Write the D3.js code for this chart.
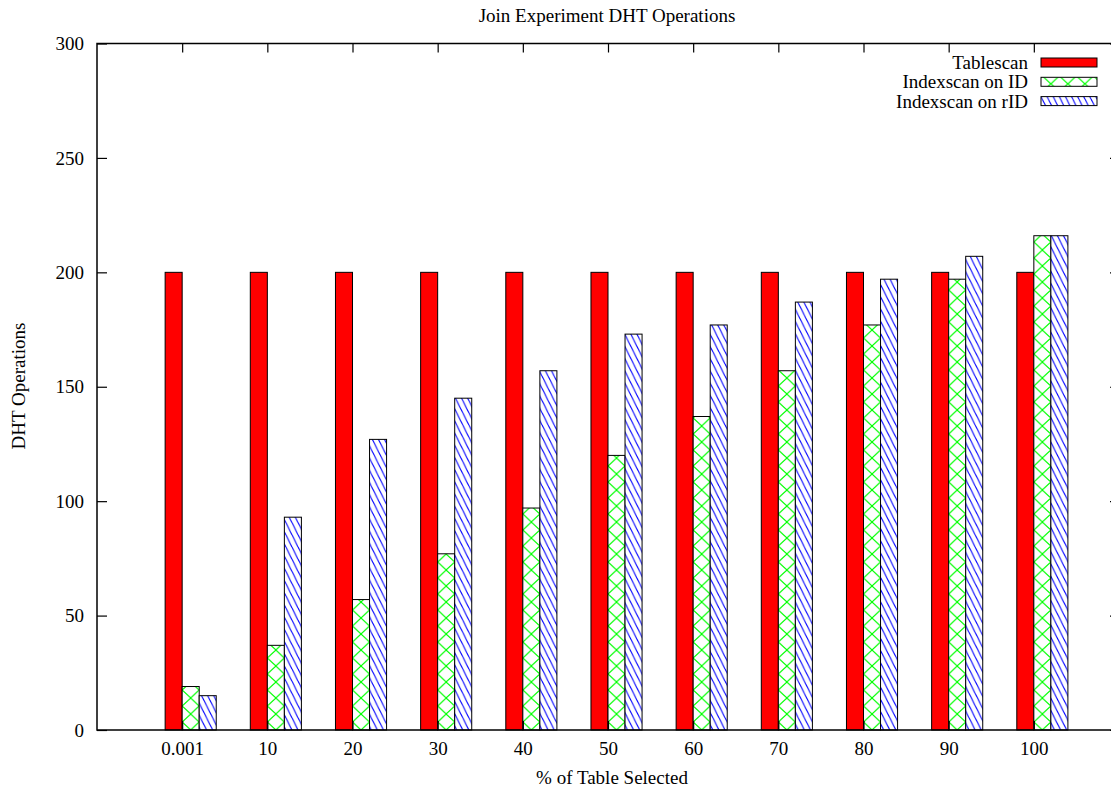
<!DOCTYPE html>
<html>
<head>
<meta charset="utf-8">
<script src="https://cdn.jsdelivr.net/npm/d3@7"></script>
<style>
  body { margin: 0; background: #fff; }
  svg text { font-family: "Liberation Serif", "DejaVu Serif", serif; font-size: 19px; fill: #000; }
  .axis path { display: none; }
  .axis line { stroke: #000; stroke-width: 1.2; }
</style>
</head>
<body>
<svg id="chart" width="1111" height="790"></svg>
<script>
// values
var categories = ['0.001', '10', '20', '30', '40', '50', '60', '70', '80', '90', '100'];
var tablescan = [200, 200, 200, 200, 200, 200, 200, 200, 200, 200, 200];
var indexscanId = [19, 37, 57, 77, 97, 120, 137, 157, 177, 197, 216];
var indexscanRid = [15, 93, 127, 145, 157, 173, 177, 187, 197, 207, 216];
var yTicks = [0, 50, 100, 150, 200, 250, 300];
var seriesNames = ['Tablescan', 'Indexscan on ID', 'Indexscan on rID'];

var svg = d3.select('#chart'),
    cs = {
        left: 97, right: 1119, top: 43.5, bottom: 730,
        barFrac: 0.2,
        pallette: { red: '#ff0000', green: '#00ff00', blue: '#0000ff' }
    };

cs.x = d3.scaleLinear().domain([-1, 11]).range([cs.left, cs.right]);
cs.y = d3.scaleLinear().domain([0, 300]).range([cs.bottom, cs.top]);
cs.barW = cs.x(cs.barFrac) - cs.x(0);

// fill patterns
var defs = svg.append('defs');
var pw = cs.barW, ph = 16;
var cross = defs.append('pattern').attr('id', 'cross')
    .attr('patternUnits', 'userSpaceOnUse')
    .attr('x', cs.x(0)).attr('y', cs.bottom)
    .attr('width', pw).attr('height', ph);
cross.append('rect').attr('width', pw).attr('height', ph).attr('fill', '#fff');
cross.append('path')
    .attr('d', 'M0,' + ph / 2 + 'L' + pw / 2 + ',0L' + pw + ',' + ph / 2 + 'L' + pw / 2 + ',' + ph + 'Z')
    .attr('fill', 'none').attr('stroke', cs.pallette.green).attr('stroke-width', 1.1);

var hw = 6.1, hh = 12.2;
var hatch = defs.append('pattern').attr('id', 'hatch')
    .attr('patternUnits', 'userSpaceOnUse')
    .attr('x', cs.x(0)).attr('y', cs.bottom)
    .attr('width', hw).attr('height', hh);
hatch.append('rect').attr('width', hw).attr('height', hh).attr('fill', '#fff');
hatch.append('path')
    .attr('d', 'M' + (-hw) + ',0L0,' + hh + 'M0,0L' + hw + ',' + hh + 'M' + hw + ',0L' + (2 * hw) + ',' + hh)
    .attr('stroke', cs.pallette.blue).attr('stroke-width', 1.1);

var fills = [cs.pallette.red, 'url(#cross)', 'url(#hatch)'];
var series = [tablescan, indexscanId, indexscanRid];

// bars
series.forEach(function (vals, s) {
    svg.append('g').selectAll('rect').data(vals).enter()
        .append('rect')
        .attr('x', function (d, i) { return cs.x(i + (s - 1) * cs.barFrac); })
        .attr('width', cs.barW)
        .attr('y', function (d) { return cs.y(d); })
        .attr('height', function (d) { return cs.bottom - cs.y(d); })
        .attr('fill', fills[s])
        .attr('stroke', '#000')
        .attr('stroke-width', 1);
});

// axes (ticks point inward, mirrored on top/right)
var xIdx = d3.range(categories.length);
svg.append('g').attr('class', 'axis')
    .attr('transform', 'translate(0,' + cs.bottom + ')')
    .call(d3.axisBottom(cs.x).tickValues(xIdx).tickSize(-9).tickPadding(19)
        .tickFormat(function (i) { return categories[i]; }))
    .selectAll('text').attr('dy', '0.32em');
svg.append('g').attr('class', 'axis')
    .attr('transform', 'translate(0,' + cs.top + ')')
    .call(d3.axisTop(cs.x).tickValues(xIdx).tickSize(-9).tickFormat(''));
svg.append('g').attr('class', 'axis')
    .attr('transform', 'translate(' + cs.left + ',0)')
    .call(d3.axisLeft(cs.y).tickValues(yTicks).tickSize(-10).tickPadding(13));
svg.append('g').attr('class', 'axis')
    .attr('transform', 'translate(' + cs.right + ',0)')
    .call(d3.axisRight(cs.y).tickValues(yTicks).tickSize(-9).tickFormat(''));
svg.selectAll('.axis text').style('font-family', '"Liberation Serif", serif').style('font-size', '19px');

// frame
svg.append('rect')
    .attr('x', cs.left).attr('y', cs.top)
    .attr('width', cs.right - cs.left).attr('height', cs.bottom - cs.top)
    .attr('fill', 'none').attr('stroke', '#000').attr('stroke-width', 1.5);

// titles
svg.append('text').attr('x', 607).attr('y', 15).attr('dy', '0.35em')
    .attr('text-anchor', 'middle').text('Join Experiment DHT Operations');
svg.append('text').attr('x', 612).attr('y', 777).attr('dy', '0.35em')
    .attr('text-anchor', 'middle').text('% of Table Selected');
svg.append('text').attr('transform', 'translate(18,386) rotate(-90)').attr('dy', '0.35em')
    .attr('text-anchor', 'middle').text('DHT Operations');

// legend
var leg = svg.append('g').selectAll('g').data(seriesNames).enter().append('g')
    .attr('transform', function (d, i) { return 'translate(0,' + (62.5 + i * 19.3) + ')'; });
leg.append('text').attr('x', 1028).attr('dy', '0.35em').attr('text-anchor', 'end')
    .text(function (d) { return d; });
leg.append('rect').attr('x', 1041).attr('y', -4.5).attr('width', 56).attr('height', 9)
    .attr('fill', function (d, i) { return fills[i]; })
    .attr('stroke', '#000').attr('stroke-width', 1);
</script>
</body>
</html>
